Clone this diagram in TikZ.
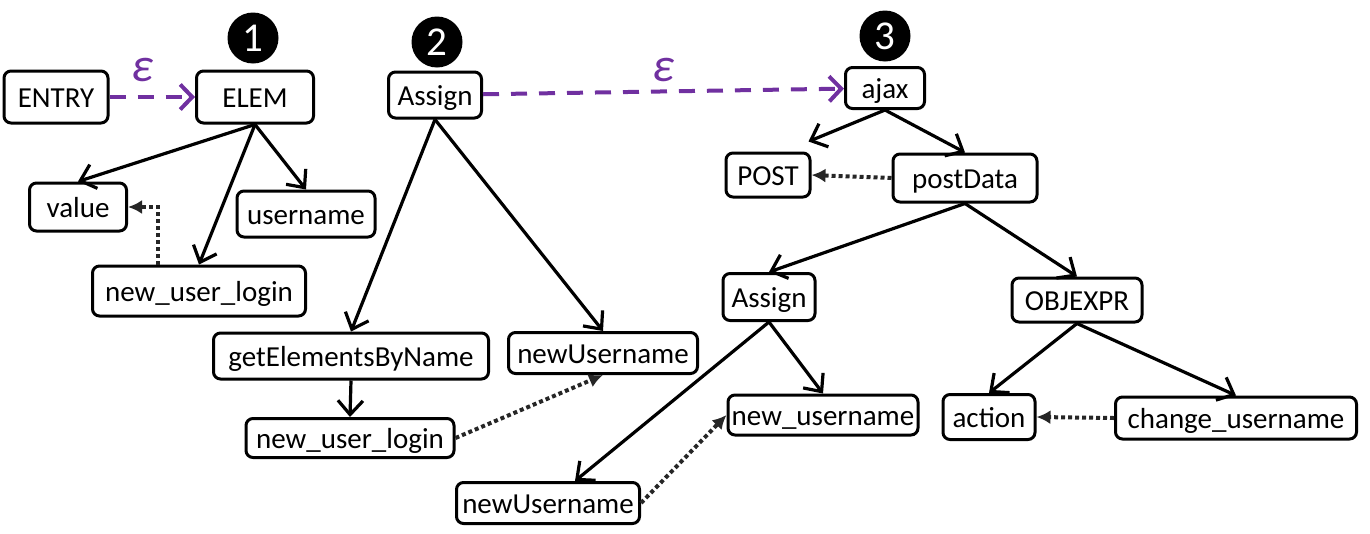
\documentclass[tikz,border=0pt]{standalone}
\usepackage{fontspec}
\setmainfont{Carlito}
\usetikzlibrary{arrows.meta}
\definecolor{epsPurple}{HTML}{7030A0}

\begin{document}
\begin{tikzpicture}[x=1pt,y=-1pt,
  box/.style={draw, line width=3pt, rounded corners=7pt, inner sep=0pt,
    font=\fontsize{29}{29}\selectfont, text height=22pt, text depth=2pt,
    minimum height=46pt},
  numcirc/.style={circle, fill=black, text=white, minimum size=51pt, inner sep=0pt,
    font=\fontsize{41}{41}\selectfont},
  epslabel/.style={text=epsPurple, inner sep=0pt, font=\fontsize{48}{48}\selectfont\itshape},
  tree/.style={line width=3.2pt, -{Straight Barb[length=14pt,width=25pt]}},
  ref/.style={draw=black!85, line width=4pt, dash pattern=on 4pt off 3pt,
    -{Latex[length=14pt,width=14pt]}},
  epsarrow/.style={draw=epsPurple, line width=4pt, dash pattern=on 16pt off 12pt,
    -{Straight Barb[length=12pt,width=25pt]}},
]
\useasboundingbox (0,0) rectangle (1370,533);

% step markers
\node[numcirc] (c1) at (253,38) {1};
\node[numcirc] (c2) at (437,42) {2};
\node[numcirc] (c3) at (885,36) {3};

% tree 1
\node[box, minimum width=104pt, minimum height=52pt] (entry) at (56,97) {ENTRY};
\node[box, minimum width=117pt, minimum height=52pt] (elem) at (255,97) {ELEM};
\node[box, minimum width=97pt, minimum height=48pt] (value) at (78,207) {value};
\node[box, minimum width=138pt] (username) at (306,214) {username};
\node[box, minimum width=213pt, minimum height=50pt] (nul1) at (199,291) {new\_user\_login};

% tree 2
\node[box, minimum width=93pt] (assign2) at (435,95) {Assign};
\node[box, minimum width=275pt] (gebn) at (351,356) {getElementsByName};
\node[box, minimum width=189pt, minimum height=41pt] (nu2) at (603,353) {newUsername};
\node[box, minimum width=208pt, minimum height=39pt] (nul2) at (350,438) {new\_user\_login};

% tree 3
\node[box, minimum width=79pt, minimum height=41pt] (ajax) at (885,88) {ajax};
\node[box, minimum width=84pt, minimum height=44pt] (post) at (768,175) {POST};
\node[box, minimum width=144pt, minimum height=48pt] (postdata) at (965,178) {postData};
\node[box, minimum width=92pt, minimum height=47pt] (assign3) at (769,297) {Assign};
\node[box, minimum width=130pt, minimum height=44pt] (objexpr) at (1077,300) {OBJEXPR};
\node[box, minimum width=183pt, minimum height=41pt] (nu3) at (548,503) {newUsername};
\node[box, minimum width=190pt, minimum height=40pt] (newusername) at (823,415) {new\_username};
\node[box, minimum width=92pt, minimum height=45pt] (action) at (989,417) {action};
\node[box, minimum width=241pt, minimum height=42pt] (change) at (1236,418) {change\_username};

% epsilon transitions
\draw[epsarrow] (entry) -- (elem);
\node[epslabel] (eps1) at (142,70) {ε};
\draw[epsarrow] (assign2) -- (ajax);
\node[epslabel] (eps2) at (663,70) {ε};

% tree edges
\draw[tree] (elem.south) -- (value.north);
\draw[tree] (elem.south) -- (nul1.north);
\draw[tree] (elem.south) -- (username.north);
\draw[tree] (assign2.south) -- (gebn.north);
\draw[tree] (assign2.south) -- (nu2.north);
\draw[tree] (gebn.south) -- (nul2.north);
\coordinate (posttip) at ([shift={(-3pt,10pt)}]post.north east);
\draw[tree] (ajax.south) -- (posttip);
\draw[tree] (ajax.south) -- (postdata.north);
\draw[tree] (postdata.south) -- (assign3.north);
\draw[tree] (postdata.south) -- (objexpr.north);
\draw[tree] (assign3.south) -- ([xshift=27pt]nu3.north);
\draw[tree] (assign3.south) -- (newusername.north);
\draw[tree] (objexpr.south) -- (action.north);
\draw[tree] (objexpr.south) -- (change.north);

% value references
\draw[ref] ([xshift=67pt]nul1.north west) |- (value.east);
\draw[ref] (nul2.east) -- (nu2.south);
\draw[ref] (postdata.west) -- (post.east);
\draw[ref] (nu3.east) -- (newusername.west);
\draw[ref] (change.west) -- (action.east);
\end{tikzpicture}
\end{document}
